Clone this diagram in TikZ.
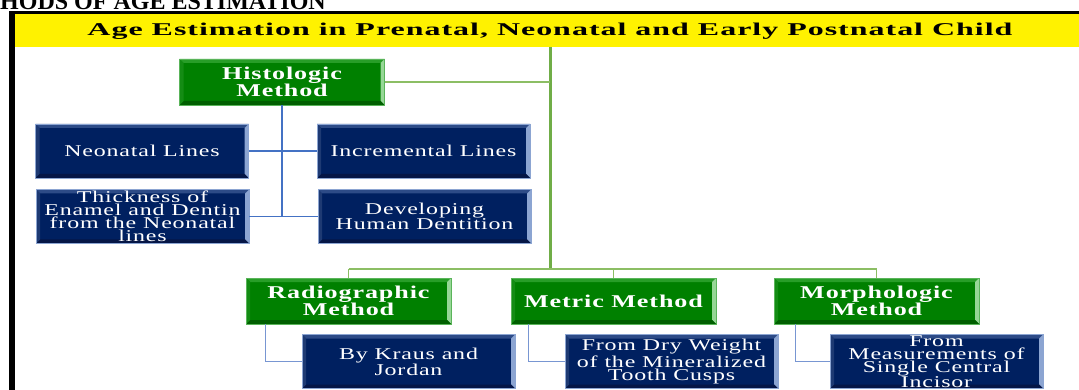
\documentclass[tikz,border=0pt]{standalone}
\usepackage{fontspec}
\usepackage{graphicx}
\setmainfont{Liberation Serif}
\newfontfamily\boxfont[FakeStretch=1.45,LetterSpace=5]{Liberation Serif}
\newfontfamily\titlefont[FakeStretch=1.3,LetterSpace=4]{Liberation Serif}
\usetikzlibrary{calc}

\definecolor{boxgreen}{RGB}{0,128,0}
\definecolor{gtop}{RGB}{40,158,40}
\definecolor{gright}{RGB}{150,215,150}
\definecolor{gbottom}{RGB}{0,95,0}
\definecolor{gleft}{RGB}{20,140,20}
\definecolor{boxnavy}{RGB}{0,32,96}
\definecolor{btop}{RGB}{45,75,135}
\definecolor{bright}{RGB}{140,165,210}
\definecolor{bbottom}{RGB}{5,22,70}
\definecolor{bleft}{RGB}{30,58,115}
\definecolor{trunkgreen}{RGB}{112,173,71}
\definecolor{busgreen}{RGB}{140,190,100}
\definecolor{treeblue}{RGB}{68,114,196}
\definecolor{leafblue}{RGB}{120,150,210}

\tikzset{
  bevel/.style n args={4}{path picture={
    \fill[#1] (path picture bounding box.north west) -- (path picture bounding box.north east)
      -- ([shift={(-4pt,-4pt)}]path picture bounding box.north east)
      -- ([shift={(4pt,-4pt)}]path picture bounding box.north west) -- cycle;
    \fill[#2] (path picture bounding box.north east) -- (path picture bounding box.south east)
      -- ([shift={(-4pt,4pt)}]path picture bounding box.south east)
      -- ([shift={(-4pt,-4pt)}]path picture bounding box.north east) -- cycle;
    \fill[#3] (path picture bounding box.south east) -- (path picture bounding box.south west)
      -- ([shift={(4pt,4pt)}]path picture bounding box.south west)
      -- ([shift={(-4pt,4pt)}]path picture bounding box.south east) -- cycle;
    \fill[#4] (path picture bounding box.south west) -- (path picture bounding box.north west)
      -- ([shift={(4pt,-4pt)}]path picture bounding box.north west)
      -- ([shift={(4pt,4pt)}]path picture bounding box.south west) -- cycle;
  }},
  greenbox/.style={rectangle, fill=boxgreen, draw=gright!60!boxgreen, line width=0.6pt,
    minimum width=205pt, minimum height=46pt, inner sep=0pt, text=white, align=center,
    font=\boxfont\bfseries\fontsize{18}{13.5}\selectfont,
    bevel={gtop}{gright}{gbottom}{gleft}},
  bluebox/.style={rectangle, fill=boxnavy, draw=bright, line width=0.6pt,
    minimum width=213pt, minimum height=54pt, inner sep=0pt, text=white, align=center,
    font=\boxfont\fontsize{16.5}{13}\selectfont,
    bevel={btop}{bright}{bbottom}{bleft}},
  trunk/.style={draw=trunkgreen, line width=3pt},
  bus/.style={draw=busgreen, line width=1.3pt},
  tree/.style={draw=treeblue, line width=1.6pt},
  leaf/.style={draw=leafblue, line width=1.3pt},
}

\begin{document}
\begin{tikzpicture}[x=1pt, y=-1pt]
  \useasboundingbox (0,0) rectangle (1079,390);

  % running heading, cut by the page top
  \node[anchor=base west, inner sep=0pt, font=\bfseries\fontsize{24}{28}\selectfont] (hdr) at (0,10) {HODS OF AGE ESTIMATION};

  % frame and title band
  \fill[black] (9,11) rectangle (1079,14.5);
  \fill[black] (9,11) rectangle (14.5,390);
  \fill[yellow] (14.5,14.5) rectangle (1079,47);
  \node[anchor=base, inner sep=0pt] (title) at (550,36)
    {\resizebox{925pt}{\height}{\titlefont\bfseries\fontsize{18}{20}\selectfont Age Estimation in Prenatal, Neonatal and Early Postnatal Child}};

  % methods
  \node[greenbox] (hist)   at (282,82)    {Histologic\\Method};
  \node[greenbox] (radio)  at (348.5,301) {Radiographic\\Method};
  \node[greenbox] (metric) at (613.5,301) {Metric Method};
  \node[greenbox] (morph)  at (876.5,301) {Morphologic\\Method};

  % histologic sub-items
  \node[bluebox] (neo)   at (142,151)     {Neonatal Lines};
  \node[bluebox] (incr)  at (423.5,151)   {Incremental Lines};
  \node[bluebox] (thick) at (142.5,216.5) {Thickness of\\Enamel and Dentin\\from the Neonatal\\lines};
  \node[bluebox] (devel) at (424.5,216.5) {Developing\\Human Dentition};

  % other sub-items
  \node[bluebox] (kraus) at (408.5,361.5) {By Kraus and\\Jordan};
  \node[bluebox] (dry)   at (671.5,361.5) {From Dry Weight\\of the Mineralized\\Tooth Cusps};
  \node[bluebox] (meas)  at (936.5,361.5) {From\\Measurements of\\Single Central\\Incisor};

  % main trunk and bus
  \coordinate (trunkTop) at (550,47);
  \coordinate (trunkBot) at (550,269);
  \draw[trunk] (trunkTop) -- (trunkBot);
  \draw[bus] (hist.east) -- (hist.east -| trunkTop);
  \draw[bus] (radio.north |- trunkBot) -- (morph.north |- trunkBot);
  \draw[bus] (radio.north |- trunkBot) -- (radio.north);
  \draw[bus] (metric.north |- trunkBot) -- (metric.north);
  \draw[bus] (morph.north |- trunkBot) -- (morph.north);

  % histologic tree
  \draw[tree] (hist.south) -- (hist.south |- thick.east);
  \draw[tree] (neo.east) -- (incr.west);
  \draw[tree] (thick.east) -- (devel.west);

  % elbow links to the lower items
  \coordinate (radioTap)  at ([xshift=20pt]radio.south west);
  \coordinate (metricTap) at ([xshift=18pt]metric.south west);
  \coordinate (morphTap)  at ([xshift=22pt]morph.south west);
  \draw[leaf] (radioTap) |- (kraus.west);
  \draw[leaf] (metricTap) |- (dry.west);
  \draw[leaf] (morphTap) |- (meas.west);
\end{tikzpicture}
\end{document}
